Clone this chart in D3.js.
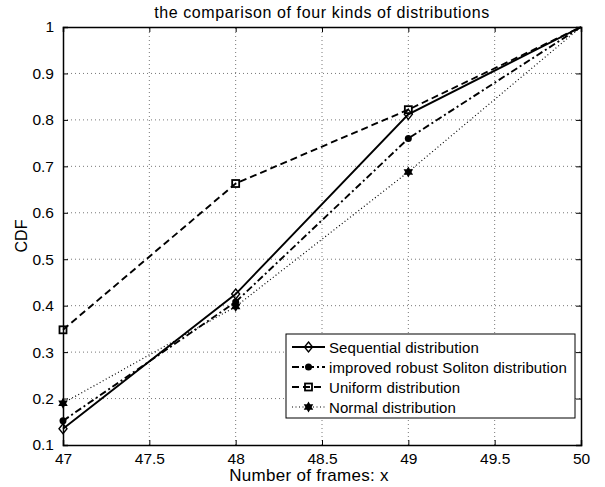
<!DOCTYPE html>
<html>
<head>
<meta charset="utf-8">
<script src="https://cdn.jsdelivr.net/npm/d3@7"></script>
<style>
  body { margin: 0; background: #fff; }
  text { font-family: "Liberation Sans", Arial, sans-serif; }
</style>
</head>
<body>
<div id="chart"></div>
<script>
// data
const frames = [47, 48, 49, 50];
const sequential = [0.135, 0.425, 0.812, 1];
const soliton = [0.152, 0.408, 0.760, 1];
const uniform = [0.348, 0.663, 0.822, 1];
const normal = [0.190, 0.398, 0.688, 1];
const xTicks = [47, 47.5, 48, 48.5, 49, 49.5, 50];
const yTicks = [0.1, 0.2, 0.3, 0.4, 0.5, 0.6, 0.7, 0.8, 0.9, 1];

const series = [
    {name: "Sequential distribution", values: sequential, dash: null, marker: "diamond"},
    {name: "improved robust Soliton distribution", values: soliton, dash: "7,3,2,3", marker: "circle"},
    {name: "Uniform distribution", values: uniform, dash: "7,4", marker: "square"},
    {name: "Normal distribution", values: normal, dash: "1,2.5", marker: "hexagram"}
];

const width = 605, height = 487;
const margin = {top: 27, right: 24, bottom: 42, left: 63};

const svg = d3.select("#chart").append("svg")
    .attr("width", width)
    .attr("height", height);

const x = d3.scaleLinear().domain([47, 50]).range([margin.left, width - margin.right]);
const y = d3.scaleLinear().domain([0.1, 1]).range([height - margin.bottom, margin.top]);

// grid
svg.append("g").selectAll("line")
    .data(xTicks.slice(1, -1)).enter().append("line")
    .attr("x1", d => x(d)).attr("x2", d => x(d))
    .attr("y1", y(0.1)).attr("y2", y(1))
    .attr("stroke", "#555").attr("stroke-width", 0.8).attr("stroke-dasharray", "1,3");
svg.append("g").selectAll("line")
    .data(yTicks.slice(1, -1)).enter().append("line")
    .attr("x1", x(47)).attr("x2", x(50))
    .attr("y1", d => y(d)).attr("y2", d => y(d))
    .attr("stroke", "#555").attr("stroke-width", 0.8).attr("stroke-dasharray", "1,3");

// axes
const xAxis = svg.append("g")
    .attr("transform", `translate(0,${y(0.1)})`)
    .call(d3.axisBottom(x).tickValues(xTicks).tickSize(-5).tickPadding(8).tickFormat(d3.format("")));
const xTop = svg.append("g")
    .attr("transform", `translate(0,${y(1)})`)
    .call(d3.axisTop(x).tickValues(xTicks).tickSize(-5).tickFormat(""));
const yAxis = svg.append("g")
    .attr("transform", `translate(${x(47)},0)`)
    .call(d3.axisLeft(y).tickValues(yTicks).tickSize(-5).tickPadding(9).tickFormat(d3.format("")));
const yRight = svg.append("g")
    .attr("transform", `translate(${x(50)},0)`)
    .call(d3.axisRight(y).tickValues(yTicks).tickSize(-5).tickFormat(""));

[xAxis, xTop, yAxis, yRight].forEach(g => {
    g.select(".domain").attr("stroke", "#000").attr("stroke-width", 1.5);
    g.selectAll(".tick line").attr("stroke", "#000");
    g.selectAll("text").attr("font-size", 15.5).attr("fill", "#000")
        .style("font-family", "'Liberation Sans', Arial, sans-serif");
});

// lines
const line = d3.line().x((d, i) => x(frames[i])).y(d => y(d));

function hexagram(r) {
    const tri = a => d3.range(3).map(k => {
        const t = a + k * 2 * Math.PI / 3;
        return [r * Math.sin(t), -r * Math.cos(t)];
    });
    return "M" + tri(0).join("L") + "Z M" + tri(Math.PI).join("L") + "Z";
}

function drawMarker(g, type, cx, cy) {
    if (type === "diamond") {
        g.append("path").attr("d", `M${cx},${cy - 5}L${cx + 4},${cy}L${cx},${cy + 5}L${cx - 4},${cy}Z`)
            .attr("fill", "none").attr("stroke", "#000").attr("stroke-width", 1.4);
    } else if (type === "circle") {
        g.append("circle").attr("cx", cx).attr("cy", cy).attr("r", 3.5).attr("fill", "#000");
    } else if (type === "square") {
        g.append("rect").attr("x", cx - 3.5).attr("y", cy - 3.5).attr("width", 7).attr("height", 7)
            .attr("fill", "none").attr("stroke", "#000").attr("stroke-width", 1.8);
    } else {
        g.append("path").attr("d", hexagram(5.5)).attr("transform", `translate(${cx},${cy})`)
            .attr("fill", "#000").attr("fill-rule", "nonzero");
    }
}

series.forEach(s => {
    svg.append("path")
        .datum(s.values)
        .attr("d", line)
        .attr("fill", "none")
        .attr("stroke", "#000")
        .attr("stroke-width", s.dash === "1,2.5" ? 1.2 : 1.9)
        .attr("stroke-dasharray", s.dash);
    const g = svg.append("g");
    s.values.slice(0, 3).forEach((v, i) => drawMarker(g, s.marker, x(frames[i]), y(v)));
});

// legend
const lg = svg.append("g").attr("transform", "translate(286,334)");
lg.append("rect").attr("width", 289).attr("height", 84)
    .attr("fill", "#fff").attr("stroke", "#000").attr("stroke-width", 1);
series.forEach((s, i) => {
    const ly = 13 + i * 20;
    lg.append("line").attr("x1", 6).attr("x2", 39).attr("y1", ly).attr("y2", ly)
        .attr("stroke", "#000")
        .attr("stroke-width", s.dash === "1,2.5" ? 1.2 : 1.9)
        .attr("stroke-dasharray", s.dash);
    drawMarker(lg, s.marker, 22.5, ly);
    lg.append("text").attr("x", 43).attr("y", ly + 5.5).attr("font-size", 15)
        .attr("letter-spacing", 0.1).text(s.name);
});

// titles
svg.append("text").attr("x", 322).attr("y", 18).attr("text-anchor", "middle")
    .attr("font-size", 16).attr("letter-spacing", 0.6)
    .text("the comparison of four kinds of distributions");
svg.append("text").attr("x", 309).attr("y", 481).attr("text-anchor", "middle")
    .attr("font-size", 17).attr("letter-spacing", 0.3).text("Number of frames: x");
svg.append("text").attr("transform", "translate(27,236) rotate(-90)").attr("text-anchor", "middle")
    .attr("font-size", 16).text("CDF");
</script>
</body>
</html>
